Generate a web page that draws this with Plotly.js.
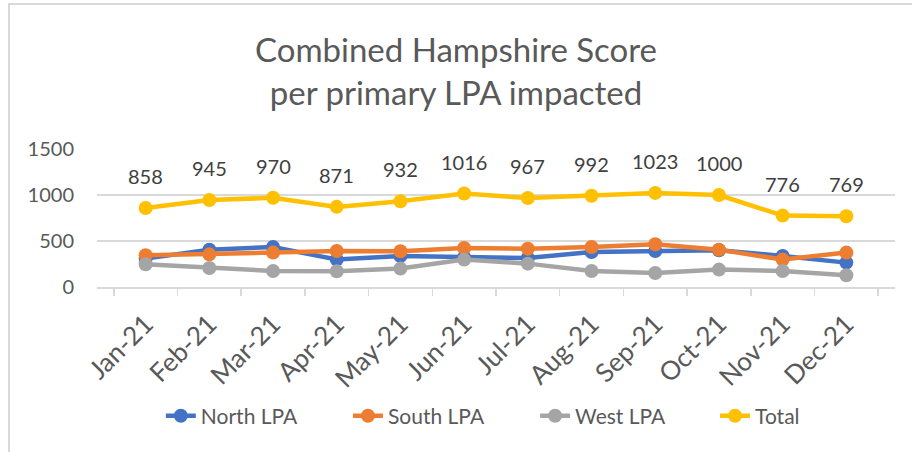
<!DOCTYPE html>
<html>
<head>
<meta charset="utf-8">
<script src="https://cdn.plot.ly/plotly-3.0.1.min.js"></script>
<style>
  html, body { margin:0; padding:0; background:#fff; }
  #frame { position:absolute; left:8px; top:3px; width:1000px; height:1000px; border-left:2px solid #d9d9d9; border-top:2px solid #d9d9d9; }
  #chart { position:absolute; left:0; top:0; width:912px; height:452px; }
</style>
</head>
<body>
<div id="frame"></div>
<div id="chart"></div>
<script>
const months = ['Jan-21','Feb-21','Mar-21','Apr-21','May-21','Jun-21','Jul-21','Aug-21','Sep-21','Oct-21','Nov-21','Dec-21'];
const northLPA = [309, 406, 435, 298, 337, 320, 315, 380, 391, 400, 337, 265];
const southLPA = [345, 355, 374, 391, 388, 424, 417, 435, 464, 406, 298, 374];
const westLPA  = [247, 207, 174, 171, 200, 298, 254, 174, 152, 189, 174, 127];
const total    = [858, 945, 970, 871, 932, 1016, 967, 992, 1023, 1000, 776, 769];
const yTicks = [0, 500, 1000, 1500];

const FONT = 'Lato, "Open Sans", sans-serif';
function series(name, y, color, legendId) {
  return {
    type:'scatter', mode:'lines+markers', name:name, x:months, y:y,
    line:{color:color, width:4.5}, marker:{color:color, size:14},
    legend:legendId, hoverinfo:'skip'
  };
}
const data = [
  series('North LPA', northLPA, '#4472C4', 'legend'),
  series('South LPA', southLPA, '#ED7D31', 'legend2'),
  series('West LPA', westLPA, '#A5A5A5', 'legend3'),
  series('Total', total, '#FFC000', 'legend4')
];
const annotations = months.map((m, i) => ({
  x:m, y:total[i], xref:'x', yref:'y', text:String(total[i]), showarrow:false,
  yshift:32, font:{family:FONT, size:20, color:'#404040'}
}));
function leg(x) {
  return {orientation:'h', x:x, xanchor:'left', y:-0.935, yanchor:'middle',
          font:{family:FONT, size:21, color:'#595959'}, itemclick:false, itemdoubleclick:false,
          bgcolor:'rgba(0,0,0,0)'};
}
const layout = {
  width:912, height:452,
  margin:{l:97, r:17, t:149, b:165},
  paper_bgcolor:'rgba(0,0,0,0)', plot_bgcolor:'rgba(0,0,0,0)',
  font:{family:FONT, color:'#595959'},
  title:{text:'Combined Hampshire Score<br>per primary LPA impacted', x:0.5, xanchor:'center',
         yref:'container', y:0.862, yanchor:'middle',
         font:{family:FONT, size:33, color:'#595959'}},
  xaxis:{type:'category', tickangle:-45, ticks:'outside', tickson:'boundaries', ticklen:7,
         tickcolor:'#d9d9d9', tickwidth:1.5, showline:true, linecolor:'#d9d9d9', linewidth:1.5,
         showgrid:false, ticklabelstandoff:10,
         tickfont:{family:FONT, size:26, color:'#595959'}, fixedrange:true},
  yaxis:{range:[0,1500], tickvals:yTicks, ticktext:yTicks.map(String), showgrid:true,
         gridcolor:'#d9d9d9', gridwidth:1.5, zeroline:false, showline:false, ticks:'',
         ticklabelstandoff:22, tickfont:{family:FONT, size:20, color:'#595959'}, fixedrange:true},
  showlegend:true,
  legend:leg(0.080), legend2:leg(0.3145), legend3:leg(0.549), legend4:leg(0.7745),
  annotations:annotations
};
Plotly.newPlot('chart', data, layout, {staticPlot:true, displayModeBar:false});
</script>
</body>
</html>
